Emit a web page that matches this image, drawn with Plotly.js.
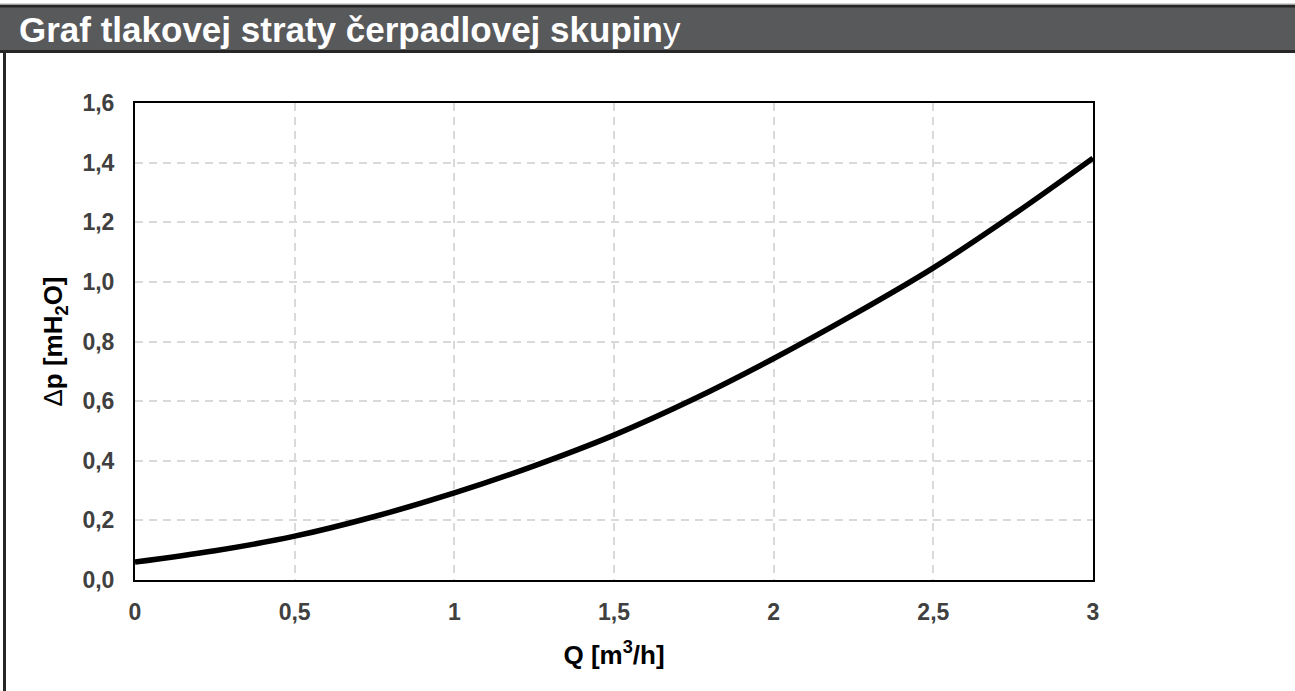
<!DOCTYPE html>
<html>
<head>
<meta charset="utf-8">
<script src="https://cdn.plot.ly/plotly-3.0.1.min.js"></script>
<style>
html,body{margin:0;padding:0;background:#fff;}
#chart{width:1295px;height:691px;}
</style>
</head>
<body>
<div id="chart"></div>
<script>
// Data
const flowQ = [0, 0.25, 0.5, 0.75, 1, 1.25, 1.5, 1.75, 2, 2.25, 2.5, 2.75, 3];
const pressureDrop = [0.060, 0.098, 0.147, 0.213, 0.292, 0.383, 0.486, 0.607, 0.743, 0.890, 1.047, 1.225, 1.415];
const xTicks = [0, 0.5, 1, 1.5, 2, 2.5, 3];
const yTicks = [0, 0.2, 0.4, 0.6, 0.8, 1.0, 1.2, 1.4, 1.6];

const W = 1295, H = 691;
const L = 135, R = 1093, T = 103, B = 580;
const px = v => (v - L) / (R - L);
const py = v => (B - v) / (B - T);
const FAM = '"Liberation Sans", Arial, sans-serif';

const trace = {
  x: flowQ, y: pressureDrop, type: 'scatter', mode: 'lines',
  line: {color: '#000000', width: 5.5, shape: 'spline'},
  hoverinfo: 'skip'
};

const layout = {
  width: W, height: H,
  margin: {l: L, r: W - R, t: T, b: H - B, pad: 0},
  paper_bgcolor: '#ffffff', plot_bgcolor: '#ffffff',
  separators: ',.',
  showlegend: false,
  font: {family: FAM},
  title: {
    text: '<b>Graf tlakovej straty čerpadlovej skupin</b>y',
    font: {family: FAM, size: 35, color: '#ffffff'},
    x: 19 / W, xanchor: 'left', xref: 'container',
    y: 1 - 30 / H, yanchor: 'middle', yref: 'container'
  },
  xaxis: {
    range: [0, 3], tickvals: xTicks, ticktext: xTicks.map(v => String(v).replace('.', ',')),
    showgrid: true, gridcolor: '#d9d9d9', gridwidth: 2, griddash: '8px,6px',
    zeroline: false, showline: true, linecolor: '#000000', linewidth: 2, mirror: true,
    ticks: '', ticklabelstandoff: 10,
    tickfont: {family: FAM, size: 23, color: '#404040', weight: 'bold'},
    title: {
      text: '<b>Q [m<sup>3</sup>/h]</b>',
      font: {family: FAM, size: 26, color: '#000000'},
      standoff: 22
    }
  },
  yaxis: {
    range: [0, 1.6], tickvals: yTicks, tickformat: '.1f',
    showgrid: true, gridcolor: '#d9d9d9', gridwidth: 2, griddash: '8px,6px',
    zeroline: false, showline: true, linecolor: '#000000', linewidth: 2, mirror: true,
    ticks: '', ticklabelstandoff: 14,
    tickfont: {family: FAM, size: 23, color: '#404040', weight: 'bold'},
    title: {
      text: 'Δ<b>p [mH<sub>2</sub>O]</b>',
      font: {family: FAM, size: 26, color: '#000000'},
      standoff: 12
    }
  },
  shapes: [
    {type: 'rect', xref: 'paper', yref: 'paper', layer: 'below',
     x0: px(-5), x1: px(W + 10), y0: py(6), y1: py(51.5),
     fillcolor: '#58595b', line: {color: '#262626', width: 3}},
    {type: 'line', xref: 'paper', yref: 'paper', layer: 'below',
     x0: px(4.5), x1: px(4.5), y0: py(51.5), y1: py(H + 5),
     line: {color: '#262626', width: 3}},
    {type: 'line', xref: 'paper', yref: 'paper', layer: 'below',
     x0: px(0), x1: px(W), y0: py(4), y1: py(4),
     line: {color: '#aaaaaa', width: 1}}
  ]
};

Plotly.newPlot('chart', [trace], layout, {displayModeBar: false, staticPlot: true});
</script>
</body>
</html>
